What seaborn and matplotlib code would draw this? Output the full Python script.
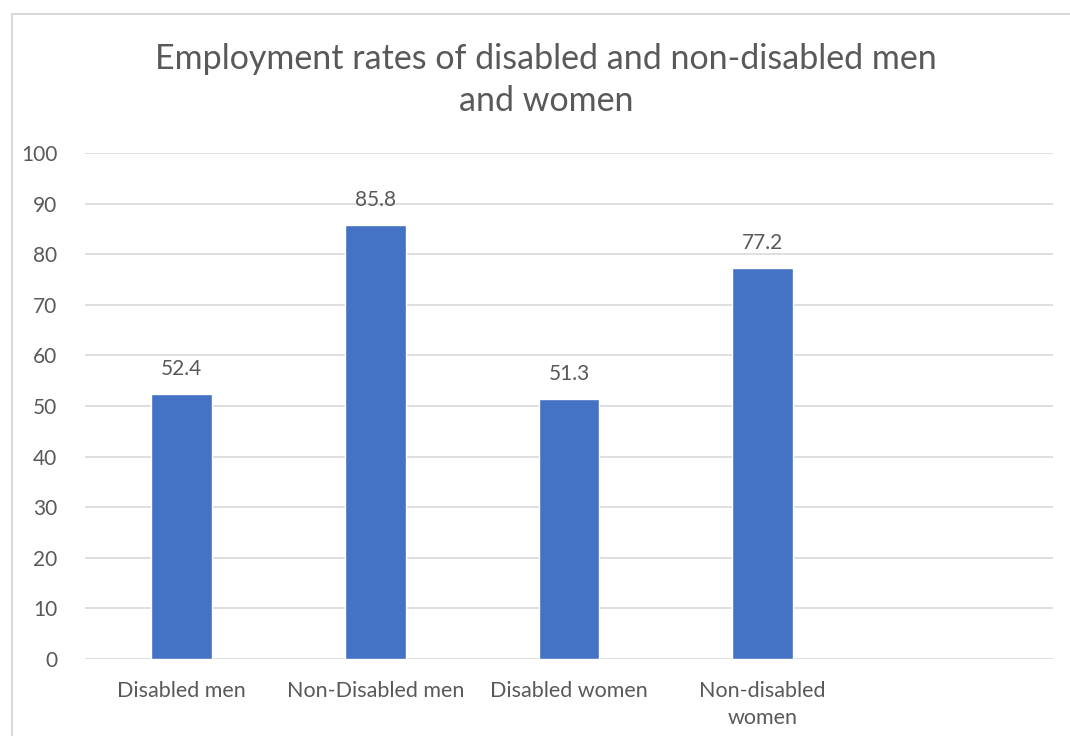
import matplotlib
matplotlib.use('Agg')
import matplotlib.pyplot as plt
import seaborn as sns
import pandas as pd
from matplotlib.patches import Rectangle

# data
categories = ['Disabled men', 'Non-Disabled men', 'Disabled women', 'Non-disabled\nwomen']
rates = [52.4, 85.8, 51.3, 77.2]
y_ticks = list(range(0, 101, 10))

df = pd.DataFrame({'group': categories, 'rate': rates})

sns.set_theme(style='white')
plt.rcParams['font.family'] = ['Lato', 'DejaVu Sans']
text_col = '#595959'

fig = plt.figure(figsize=(10.7, 7.36), dpi=100)
ax = fig.add_axes([85 / 1070, 1 - 659 / 736, (1053 - 85) / 1070, (659 - 153) / 736])

sns.barplot(data=df, x='group', y='rate', color='#4472C4', width=0.315,
            saturation=1, ax=ax, zorder=3)

for i, v in enumerate(rates):
    ax.text(i, v + 5, f'{v}', ha='center', va='center', fontsize=15, color=text_col)

ax.set_xlim(-0.5, 4.5)
ax.set_ylim(0, 100)
ax.set_yticks(y_ticks)
ax.yaxis.grid(True, color='#d9d9d9', linewidth=1.2, zorder=0)
ax.set_axisbelow(True)
ax.tick_params(axis='y', labelsize=15, labelcolor=text_col, length=0, pad=20)
ax.tick_params(axis='x', labelsize=15.5, labelcolor=text_col, length=0, pad=16)
for lbl in ax.get_xticklabels():
    lbl.set_linespacing(1.4)
for s in ax.spines.values():
    s.set_visible(False)
ax.set_xlabel('')
ax.set_ylabel('')

fig.text(546 / 1070, 1 - 80 / 736, 'Employment rates of disabled and non-disabled men\nand women',
         ha='center', va='center', fontsize=24.5, color=text_col, linespacing=1.35)

# outer chart border
fig.patches.append(Rectangle((12 / 1070, -0.01), 1.0, 1 - 14 / 736 + 0.01,
                             transform=fig.transFigure, fill=False,
                             edgecolor='#d9d9d9', linewidth=1.5))

fig.savefig('out.png', dpi=100)
